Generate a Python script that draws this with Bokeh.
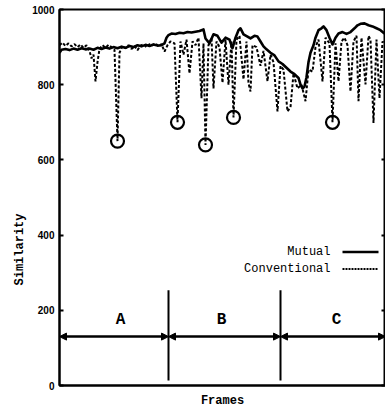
from bokeh.plotting import figure
from bokeh.models import LinearAxis, Range1d, FixedTicker, Arrow, NormalHead, Title
from bokeh.core.properties import value
from bokeh.embed import file_html
from bokeh.resources import INLINE

# ---- data (frames are arbitrary index units) ----
mutual_frames = [0, 2, 6, 10, 14, 18, 22, 26, 30, 34, 38, 42, 46, 50, 54, 58, 62, 66, 70, 74,
                 78, 82, 86, 90, 94, 98, 102, 105, 107, 109, 112, 116, 120, 124, 128, 132, 136,
                 140, 144, 146, 150, 154, 158, 162, 166, 170, 173, 176, 179, 181, 184, 188, 191,
                 195, 198, 201, 204, 207, 211, 215, 219, 223, 227, 231, 235, 239, 241, 243, 245,
                 247, 249, 251, 254, 256, 259, 262, 264, 267, 270, 273, 276, 279, 283, 287, 291,
                 295, 298, 301, 305, 309, 313, 317, 321, 324, 326]
mutual_values = [885, 893, 895, 892, 896, 893, 897, 894, 896, 893, 898, 895, 899, 896, 900, 897,
                 901, 898, 903, 900, 905, 902, 906, 903, 907, 904, 905, 910, 925, 932, 936, 935,
                 938, 937, 940, 939, 941, 943, 947, 923, 910, 934, 930, 912, 925, 920, 897, 925,
                 945, 950, 934, 928, 923, 930, 928, 915, 902, 894, 885, 878, 862, 855, 845, 835,
                 828, 818, 800, 790, 795, 820, 860, 885, 905, 925, 945, 950, 955, 945, 925, 907,
                 925, 936, 940, 935, 940, 950, 958, 962, 963, 958, 955, 950, 945, 938, 935]

conv_frames = [0, 3, 6, 9, 12, 15, 18, 21, 24, 27, 30, 32, 34, 36, 38, 40, 43, 46, 49, 52, 55,
               58, 60, 63, 66, 69, 72, 75, 78, 81, 84, 87, 90, 93, 96, 99, 102, 105, 108, 111,
               115, 118, 121, 124, 127, 130, 133, 136, 139, 142, 144, 146, 149, 152, 154, 157,
               160, 163, 166, 169, 172, 174, 177, 180, 184, 187, 189, 191, 193, 197, 201, 204,
               208, 211, 214, 218, 221, 224, 228, 231, 234, 238, 242, 246, 249, 253, 256, 259,
               263, 266, 270, 273, 276, 279, 282, 285, 288, 291, 294, 297, 299, 302, 306, 309,
               311, 314, 317, 320, 323, 326]
conv_values = [905, 912, 903, 910, 902, 908, 900, 907, 898, 905, 890, 870, 880, 809, 860, 895,
               905, 898, 906, 900, 893, 650, 885, 903, 897, 905, 895, 903, 892, 904, 908, 900,
               908, 905, 910, 902, 908, 888, 905, 915, 910, 700, 915, 880, 920, 830, 915, 905,
               925, 764, 910, 640, 905, 925, 790, 915, 900, 805, 920, 800, 915, 713, 920, 930,
               814, 915, 804, 782, 905, 900, 850, 890, 809, 880, 860, 729, 850, 840, 729, 740,
               830, 790, 800, 756, 840, 835, 900, 920, 809, 925, 910, 700, 910, 809, 915, 925,
               905, 782, 915, 930, 756, 925, 801, 930, 920, 698, 920, 764, 915, 905]

outlier_frames = [58, 118, 146, 174, 273]
outlier_values = [650, 700, 640, 713, 700]

phase_edges = [0, 109, 221, 326]
phase_labels = ["A", "B", "C"]
phase_label_frames = [61, 162, 277]
y_ticks = [0, 200, 400, 600, 800, 1000]

MONO = "Liberation Mono"

p = figure(frame_width=326, frame_height=376,
           x_range=Range1d(0, 326), y_range=Range1d(0, 1000),
           output_backend="svg", toolbar_location=None,
           min_border_left=59, min_border_top=9, min_border_right=0, min_border_bottom=22)
p.xgrid.visible = False
p.ygrid.visible = False
p.outline_line_color = "black"
p.outline_line_width = 2

# y axis
p.yaxis.ticker = FixedTicker(ticks=y_ticks)
p.yaxis.major_tick_in = 4
p.yaxis.major_tick_out = 0
p.yaxis.minor_tick_line_color = None
p.yaxis.axis_line_width = 2
p.yaxis.major_tick_line_width = 2
p.yaxis.major_label_text_font = "Liberation Sans"
p.yaxis.major_label_text_font_style = "bold"
p.yaxis.major_label_text_font_size = "10px"
p.yaxis.major_label_text_color = "black"
p.yaxis.major_label_standoff = 5

# x axis
p.xaxis.ticker = FixedTicker(ticks=[])
p.xaxis.major_tick_line_color = None
p.xaxis.minor_tick_line_color = None
p.xaxis.major_label_standoff = 0
p.xaxis.axis_line_width = 2
p.xaxis.axis_label = "Frames"
p.xaxis.axis_label_text_font = MONO
p.xaxis.axis_label_text_font_style = "bold"
p.xaxis.axis_label_text_font_size = "12px"
p.xaxis.axis_label_text_color = "black"
p.xaxis.axis_label_standoff = 8

# right axis (ticks only)
ra = LinearAxis(ticker=FixedTicker(ticks=y_ticks),
                major_label_overrides={t: "" for t in y_ticks},
                major_tick_in=4, major_tick_out=0, major_label_standoff=0,
                minor_tick_line_color=None, axis_line_width=2, major_tick_line_width=2)
p.add_layout(ra, "right")

# y label (vertical, placed below frame centre as in the original)
p.add_layout(Title(text="Similarity", align="left", offset=100, text_font=MONO,
                   text_font_style="bold", text_font_size="12px", text_color="black",
                   standoff=6), "left")

# series
p.line(conv_frames, conv_values, line_color="black", line_width=2, line_dash="3 2")
p.line(mutual_frames, mutual_values, line_color="black", line_width=2.6, line_join="round")
p.scatter(outlier_frames, outlier_values, size=13, marker="circle",
          fill_color="white", fill_alpha=0.0, line_color="black", line_width=2.2)

# phase separators and arrows
p.segment(x0=phase_edges[1:3], y0=[13, 13], x1=phase_edges[1:3], y1=[253, 253],
          line_color="black", line_width=2)
for i in range(3):
    p.add_layout(Arrow(x_start=phase_edges[i], y_start=130, x_end=phase_edges[i + 1], y_end=130,
                       start=NormalHead(size=7, fill_color="black", line_color="black"),
                       end=NormalHead(size=7, fill_color="black", line_color="black"),
                       line_width=2.5, line_color="black"))
p.text(x=phase_label_frames, y=[173, 173, 173], text=phase_labels, text_font=value(MONO),
       text_font_style="bold", text_font_size="16px", text_align="center",
       text_baseline="middle", text_color="black")

# legend (label left, sample right)
p.text(x=[271, 271], y=[355, 310], text=["Mutual", "Conventional"], text_font=value(MONO),
       text_font_size="12px", text_align="right", text_baseline="middle", text_color="black")
p.line([283, 319], [355, 355], line_color="black", line_width=2.4)
p.line([283, 319], [310, 310], line_color="black", line_width=2, line_dash="2 1")

open("out.html", "w").write(file_html(p, INLINE))
